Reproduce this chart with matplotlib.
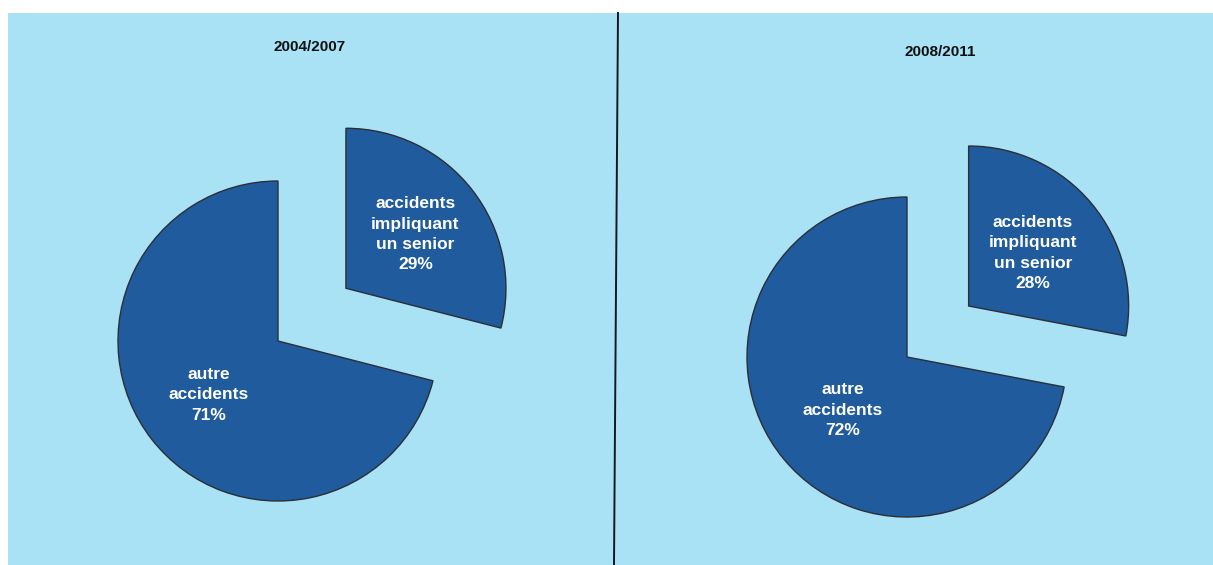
import matplotlib.pyplot as plt
from matplotlib.patches import Rectangle

# parts des accidents, deux periodes
periods = ['2004/2007', '2008/2011']
senior_pct = [29, 28]
other_pct = [71, 72]
slice_names = ['accidents\nimpliquant\nun senior', 'autre\naccidents']

plt.rcParams['font.family'] = ['Liberation Sans', 'DejaVu Sans']

W, H = 1213, 565
bg = '#a9e1f5'
wedge_col = '#205b9d'

fig = plt.figure(figsize=(W / 100, H / 100), dpi=100, facecolor='white')
fig.add_artist(Rectangle((8 / W, 0), 1 - 8 / W, 1 - 13 / H,
                         transform=fig.transFigure, facecolor=bg,
                         edgecolor='none', zorder=0))

ax = fig.add_axes([0, 0, 1, 1])
ax.set_facecolor('none')

# centre et rayon de chaque camembert (en pixels, y vers le haut)
centers = [(278, 224), (907, 208)]
radius = 160
explode_px = [86, 80]
label_dist = [0.55, 0.52]
title_pos = [(310, 518), (940, 513)]

for i, period in enumerate(periods):
    vals = [senior_pct[i], other_pct[i]]
    labels = [f'{name}\n{v}%' for name, v in zip(slice_names, vals)]
    ax.pie(vals, labels=labels, center=centers[i], radius=radius,
           startangle=90, counterclock=False,
           explode=[explode_px[i], 0], labeldistance=label_dist[i],
           colors=[wedge_col, wedge_col],
           wedgeprops=dict(edgecolor='#2b2f36', linewidth=1.0),
           textprops=dict(color='white', fontsize=12.5, fontweight='bold',
                          ha='center', va='center', linespacing=1.45),
           frame=True)
    ax.text(title_pos[i][0], title_pos[i][1], period, fontsize=11,
            fontweight='bold', ha='center', va='center', color='#111111')

# trait de separation entre les deux periodes
ax.plot([618, 614], [552, 0], color='#15181d', lw=1.4)

ax.set_xlim(0, W)
ax.set_ylim(0, H)
ax.set_aspect('auto')
for s in ax.spines.values():
    s.set_visible(False)
ax.set_xticks([])
ax.set_yticks([])

fig.savefig('out.png', dpi=100, facecolor='white')
